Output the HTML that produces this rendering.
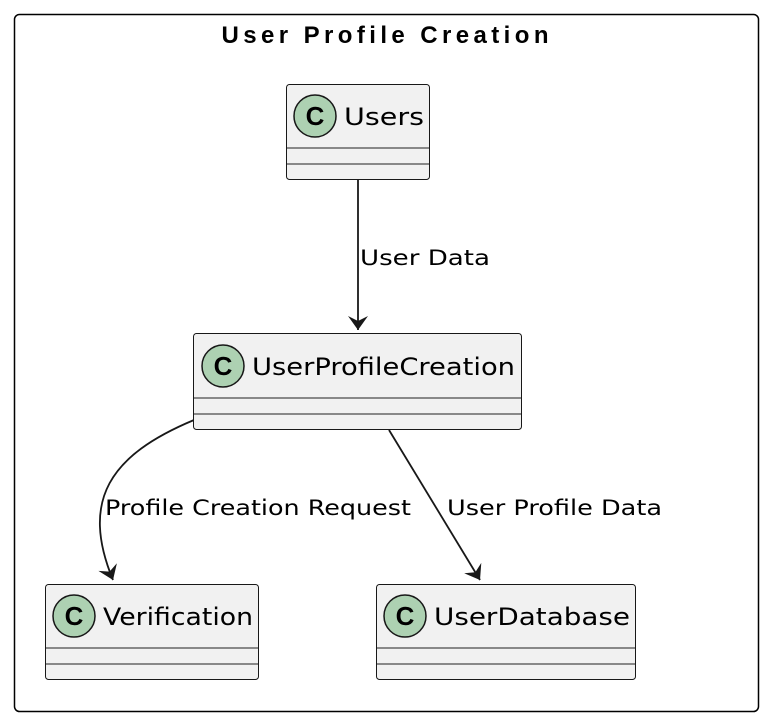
<!DOCTYPE html>
<html><head><meta charset="utf-8"><style>html,body{margin:0;padding:0;background:#fff}svg{display:block}</style></head>
<body>
<svg width="770" height="724" viewBox="0 0 770 724" xmlns="http://www.w3.org/2000/svg" font-family="DejaVu Sans, Liberation Sans, sans-serif">
<defs>
<marker id="a" markerWidth="24" markerHeight="24" refX="14" refY="12" orient="auto" markerUnits="userSpaceOnUse">
<path d="M0,2 L14,12 L0,22 L5,12 Z" fill="#181818"/>
</marker>
</defs>
<rect x="14.5" y="14.5" width="744" height="697" rx="5" fill="#fff" stroke="#000" stroke-width="1.5"/>
<text x="386" y="43" text-anchor="middle" font-family="Liberation Sans, sans-serif" font-size="24" font-weight="bold" letter-spacing="2" textLength="329">User Profile Creation</text>

<g stroke="#181818" stroke-width="1.8" fill="none">
<path d="M358,180 L358,330" marker-end="url(#a)"/>
<path d="M194,420 C110,455 80,500 113,580" marker-end="url(#a)"/>
<path d="M389,430 L480,580" marker-end="url(#a)"/>
</g>
<g font-size="21" fill="#000">
<text x="360" y="265" textLength="130" lengthAdjust="spacingAndGlyphs">User Data</text>
<text x="105" y="515" textLength="306" lengthAdjust="spacingAndGlyphs">Profile Creation Request</text>
<text x="447" y="515" textLength="215" lengthAdjust="spacingAndGlyphs">User Profile Data</text>
</g>

<g font-size="24">
<rect x="286.5" y="84.5" width="143" height="95" rx="3" fill="#f1f1f1" stroke="#181818"/>
<line x1="287" y1="148" x2="429" y2="148" stroke="#666" stroke-width="1.5"/>
<line x1="287" y1="164" x2="429" y2="164" stroke="#666" stroke-width="1.5"/>
<circle cx="315" cy="116" r="21" fill="#add1b2" stroke="#181818" stroke-width="1.5"/>
<text x="315" y="125" text-anchor="middle" font-family="Liberation Sans Narrow, Liberation Sans, sans-serif" font-size="26" font-weight="bold">C</text>
<text x="344" y="125" textLength="80" lengthAdjust="spacingAndGlyphs">Users</text>

<rect x="193.5" y="333.5" width="328" height="96" rx="3" fill="#f1f1f1" stroke="#181818"/>
<line x1="194" y1="398" x2="521" y2="398" stroke="#666" stroke-width="1.5"/>
<line x1="194" y1="414" x2="521" y2="414" stroke="#666" stroke-width="1.5"/>
<circle cx="223" cy="366" r="21" fill="#add1b2" stroke="#181818" stroke-width="1.5"/>
<text x="223" y="375" text-anchor="middle" font-family="Liberation Sans Narrow, Liberation Sans, sans-serif" font-size="26" font-weight="bold">C</text>
<text x="252" y="375" textLength="263" lengthAdjust="spacingAndGlyphs">UserProfileCreation</text>

<rect x="45.5" y="584.5" width="213" height="95" rx="3" fill="#f1f1f1" stroke="#181818"/>
<line x1="46" y1="648" x2="258" y2="648" stroke="#666" stroke-width="1.5"/>
<line x1="46" y1="664" x2="258" y2="664" stroke="#666" stroke-width="1.5"/>
<circle cx="74" cy="616" r="21" fill="#add1b2" stroke="#181818" stroke-width="1.5"/>
<text x="74" y="625" text-anchor="middle" font-family="Liberation Sans Narrow, Liberation Sans, sans-serif" font-size="26" font-weight="bold">C</text>
<text x="103" y="625" textLength="150" lengthAdjust="spacingAndGlyphs">Verification</text>

<rect x="376.5" y="584.5" width="259" height="95" rx="3" fill="#f1f1f1" stroke="#181818"/>
<line x1="377" y1="648" x2="635" y2="648" stroke="#666" stroke-width="1.5"/>
<line x1="377" y1="664" x2="635" y2="664" stroke="#666" stroke-width="1.5"/>
<circle cx="405" cy="616" r="21" fill="#add1b2" stroke="#181818" stroke-width="1.5"/>
<text x="405" y="625" text-anchor="middle" font-family="Liberation Sans Narrow, Liberation Sans, sans-serif" font-size="26" font-weight="bold">C</text>
<text x="434" y="625" textLength="196" lengthAdjust="spacingAndGlyphs">UserDatabase</text>
</g>
</svg>
</body></html>
